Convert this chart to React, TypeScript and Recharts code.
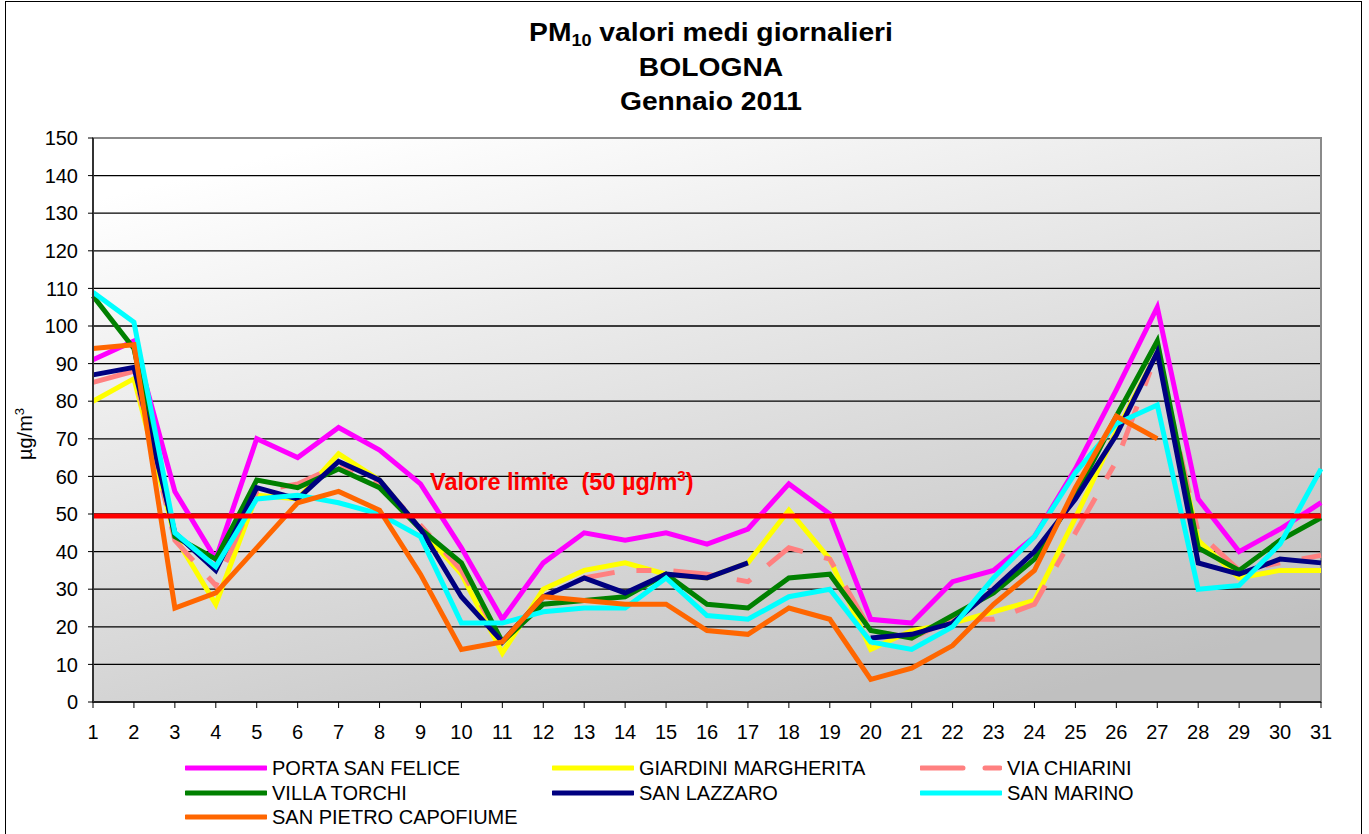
import { LineChart, Line, XAxis, YAxis, CartesianGrid, ReferenceLine, ReferenceArea } from "recharts";

document.body.style.margin = "0";

const days = [1, 2, 3, 4, 5, 6, 7, 8, 9, 10, 11, 12, 13, 14, 15, 16, 17, 18, 19, 20, 21, 22, 23, 24, 25, 26, 27, 28, 29, 30, 31];

const portaSanFelice = [91, 96, 56, 38, 70, 65, 73, 67, 58, 41, 22, 37, 45, 43, 45, 42, 46, 58, 50, 22, 21, 32, 35, 44, 62, 83, 105, 54, 40, 46, 53];
const giardiniMargherita = [80, 86, 44, 26, 55, 54, 66, 59, 46, 34, 13, 30, 35, 37, 34, 33, 37, 51, 38, 14, 19, 21, 24, 27, 49, 72, 93, 43, 33, 35, 35];
const viaChiarini = [85, 88, 43, 31, 56, 58, 63, 58, 47, 35, 16, 28, 33, 35, 35, 34, 32, 41, 38, 19, 17, 22, 22, 26, 45, 64, 93, 45, 35, 37, 39];
const villaTorchi = [108, 94, 44, 38, 59, 57, 62, 57, 46, 37, 16, 26, 27, 28, 34, 26, 25, 33, 34, 19, 17, 23, 29, 38, 55, 76, 96, 41, 35, 43, 49];
const sanLazzaro = [87, 89, 45, 35, 57, 54, 64, 59, 46, 28, 16, 28, 33, 29, 34, 33, 37, null, null, 17, 18, 21, 30, 40, 54, 71, 93, 37, 34, 38, 37];
const sanMarino = [109, 101, 45, 36, 54, 55, 53, 50, 44, 21, 21, 24, 25, 25, 33, 23, 22, 28, 30, 16, 14, 20, 33, 44, 61, 74, 79, 30, 31, 42, 62];
const sanPietroCapofiume = [94, 95, 25, 29, 41, 53, 56, 51, 34, 14, 16, 28, 27, 26, 26, 19, 18, 25, 22, 6, 9, 15, 26, 35, 57, 76, 70, null, null, null, null];

const yTicks = [0, 10, 20, 30, 40, 50, 60, 70, 80, 90, 100, 110, 120, 130, 140, 150];
const LIMIT = 49.5;

const series = [
  { key: "porta", name: "PORTA SAN FELICE", values: portaSanFelice, color: "#ff00ff" },
  { key: "giardini", name: "GIARDINI MARGHERITA", values: giardiniMargherita, color: "#ffff00" },
  { key: "chiarini", name: "VIA CHIARINI", values: viaChiarini, color: "#ff8080", dash: "42 22 15 22" },
  { key: "torchi", name: "VILLA TORCHI", values: villaTorchi, color: "#008000" },
  { key: "lazzaro", name: "SAN LAZZARO", values: sanLazzaro, color: "#000080" },
  { key: "marino", name: "SAN MARINO", values: sanMarino, color: "#00ffff" },
  { key: "capofiume", name: "SAN PIETRO CAPOFIUME", values: sanPietroCapofiume, color: "#ff6600" },
];

const data = days.map((day, i) => {
  const row: Record<string, number | null> = { day };
  series.forEach((s) => {
    row[s.key] = s.values[i];
  });
  return row;
});

const FONT = "'Liberation Sans', Arial, sans-serif";

// legend slots, 3 columns like the original
const legendCols = [185, 552, 920];
const legendRows = [768, 793, 817];

function LegendBlock() {
  return (
    <>
      {series.map((s, i) => {
        const left = legendCols[i % 3];
        const top = legendRows[Math.floor(i / 3)];
        return (
          <div key={s.key} style={{ position: "absolute", left, top: top - 12, height: 24, display: "flex", alignItems: "center" }}>
            <svg width={82} height={24} style={{ display: "block" }}>
              <line x1={1} y1={12} x2={81} y2={12} stroke={s.color} strokeWidth={5} strokeLinecap="round" strokeDasharray={s.dash} />
            </svg>
            <span style={{ marginLeft: 5, fontSize: 20, color: "#000", whiteSpace: "nowrap" }}>{s.name}</span>
          </div>
        );
      })}
    </>
  );
}

export default function App() {
  return (
    <div style={{ position: "relative", width: 1369, height: 834, background: "#fff", fontFamily: FONT, overflow: "hidden" }}>
      <div style={{ position: "absolute", left: 5, top: 1, width: 1357, height: 850, border: "1.5px solid #000", boxSizing: "border-box" }} />
      <div
        style={{
          position: "absolute",
          left: 411,
          top: 15,
          width: 600,
          textAlign: "center",
          fontWeight: "bold",
          fontSize: 25,
          lineHeight: "34.5px",
          color: "#000",
          transform: "scaleX(1.13)",
          transformOrigin: "center",
        }}
      >
        <div>
          PM<span style={{ fontSize: 16, position: "relative", top: 5, lineHeight: 0 }}>10</span> valori medi giornalieri
        </div>
        <div>BOLOGNA</div>
        <div>Gennaio 2011</div>
      </div>
      <div style={{ position: "absolute", left: 0, top: 0 }}>
        <LineChart width={1369} height={834} data={data} margin={{ top: 138, right: 48, left: 0, bottom: 0 }}>
          <defs>
            <linearGradient id="plotBg" x1="0.2" y1="0" x2="0.75" y2="1">
              <stop offset="0%" stopColor="#ffffff" />
              <stop offset="100%" stopColor="#c0c0c0" />
            </linearGradient>
          </defs>
          <CartesianGrid vertical={false} stroke="#000" strokeWidth={1.3} fill="url(#plotBg)" fillOpacity={1} />
          <ReferenceArea x1={1} x2={31} y1={0} y2={150} fill="none" stroke="#8a8a8a" strokeWidth={2} />
          <XAxis
            dataKey="day"
            height={132}
            interval={0}
            tick={{ fontSize: 20, fill: "#000", fontFamily: FONT }}
            tickSize={6}
            tickMargin={17}
            tickLine={{ stroke: "#000" }}
            axisLine={{ stroke: "#000", strokeWidth: 1.5 }}
          />
          <YAxis
            width={93}
            domain={[0, 150]}
            ticks={yTicks}
            interval={0}
            tick={{ fontSize: 20, fill: "#000", fontFamily: FONT }}
            tickSize={5}
            tickMargin={10}
            tickLine={{ stroke: "#000" }}
            axisLine={{ stroke: "#333", strokeWidth: 2 }}
            label={{
              content: (props: any) => {
                const vb = props.viewBox || { y: 138, height: 564 };
                const cy = vb.y + vb.height / 2 + 14;
                return (
                  <text transform={`translate(32,${cy}) rotate(-90)`} textAnchor="middle" fontSize={20} fill="#000" fontFamily={FONT}>
                    µg/m<tspan dy={-8} fontSize={13}>3</tspan>
                  </text>
                );
              },
            }}
          />
          {series.map((s) => (
            <Line
              key={s.key}
              type="linear"
              dataKey={s.key}
              name={s.name}
              stroke={s.color}
              strokeWidth={5}
              strokeDasharray={s.dash}
              dot={false}
              activeDot={false}
              connectNulls={false}
              isAnimationActive={false}
            />
          ))}
          <ReferenceLine
            y={LIMIT}
            stroke="#ff0000"
            strokeWidth={5}
            label={{
              content: (props: any) => {
                const vb = props.viewBox || { x: 93, y: 516 };
                return (
                  <text x={vb.x + 337} y={vb.y - 26} fill="#ff0000" fontWeight="bold" fontSize={23.5} fontFamily={FONT}>
                    Valore limite{"\u00a0 "}(50 µg/m<tspan dy={-9} fontSize={15}>3</tspan>
                    <tspan dy={9}>)</tspan>
                  </text>
                );
              },
            }}
          />
        </LineChart>
      </div>
      <LegendBlock />
    </div>
  );
}
